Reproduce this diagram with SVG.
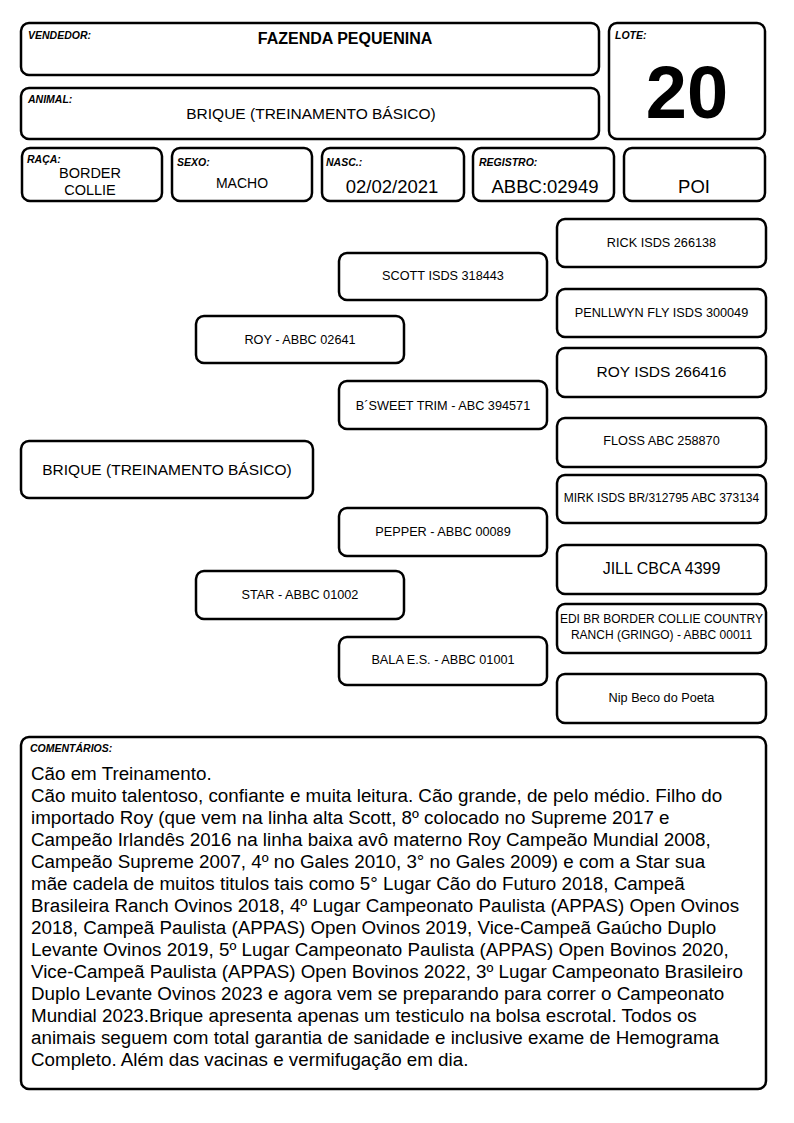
<svg xmlns="http://www.w3.org/2000/svg" width="794" height="1123" viewBox="0 0 794 1123">
<style>
.box{fill:#fff;stroke:#000;stroke-width:2.5}
text{font-family:"Liberation Sans",Arial,sans-serif;fill:#000}
.lbl{font-size:10.5px;font-weight:bold;font-style:italic}
.c{text-anchor:middle}
.p{font-size:12.7px}
.pl{font-size:15.5px}
.v{font-size:18.5px}
.cm{font-size:18.8px}
</style>
<rect width="794" height="1123" fill="#fff"/>
<g id="vendedor"><rect class="box" x="21" y="23" width="578" height="52" rx="8"/><text class="lbl" x="28" y="39">VENDEDOR:</text><text class="c" x="345" y="44" font-size="16" font-weight="bold">FAZENDA PEQUENINA</text></g>
<g id="animal"><rect class="box" x="21" y="88" width="578" height="51" rx="8"/><text class="lbl" x="28" y="103">ANIMAL:</text><text class="c" x="311" y="119" font-size="15.5">BRIQUE (TREINAMENTO BÁSICO)</text></g>
<g id="lote"><rect class="box" x="609" y="23" width="156" height="116" rx="8"/><text class="lbl" x="615" y="39">LOTE:</text><text class="c" x="687" y="118" font-size="74" font-weight="bold">20</text></g>
<g id="raca"><rect class="box" x="22" y="148" width="140" height="53" rx="8"/><text class="lbl" x="27" y="163">RAÇA:</text><text class="c" x="90" y="178" font-size="14.5">BORDER</text><text class="c" x="90" y="195" font-size="14.5">COLLIE</text></g>
<g id="sexo"><rect class="box" x="172" y="148" width="140" height="53" rx="8"/><text class="lbl" x="177" y="166">SEXO:</text><text class="c" x="242" y="188" font-size="14">MACHO</text></g>
<g id="nasc"><rect class="box" x="322" y="148" width="142" height="53" rx="8"/><text class="lbl" x="326" y="166">NASC.:</text><text class="c v" x="392" y="193">02/02/2021</text></g>
<g id="registro"><rect class="box" x="473" y="148" width="141" height="53" rx="8"/><text class="lbl" x="479" y="166">REGISTRO:</text><text class="c v" x="545" y="193">ABBC:02949</text></g>
<g id="poi"><rect class="box" x="624" y="148" width="141" height="53" rx="8"/><text class="c v" x="694" y="193">POI</text></g>

<g id="connectors"></g>

<g id="brique"><rect class="box" x="21" y="441" width="292" height="57" rx="8"/><text class="c pl" x="167" y="475">BRIQUE (TREINAMENTO BÁSICO)</text></g>
<g id="roy-abbc"><rect class="box" x="196" y="316" width="208" height="47" rx="8"/><text class="c p" x="300" y="344">ROY - ABBC 02641</text></g>
<g id="star"><rect class="box" x="196" y="571" width="208" height="48" rx="8"/><text class="c p" x="300" y="599">STAR - ABBC 01002</text></g>
<g id="scott"><rect class="box" x="339" y="253" width="208" height="47" rx="8"/><text class="c p" x="443" y="280">SCOTT ISDS 318443</text></g>
<g id="bsweet"><rect class="box" x="339" y="381" width="208" height="48" rx="8"/><text class="c p" x="443" y="410">B´SWEET TRIM - ABC 394571</text></g>
<g id="pepper"><rect class="box" x="339" y="508" width="208" height="48" rx="8"/><text class="c p" x="443" y="536">PEPPER - ABBC 00089</text></g>
<g id="bala"><rect class="box" x="339" y="637" width="208" height="48" rx="8"/><text class="c p" x="443" y="664">BALA E.S. - ABBC 01001</text></g>
<g id="rick"><rect class="box" x="557" y="219" width="209" height="48" rx="8"/><text class="c p" x="661.5" y="246.5">RICK ISDS 266138</text></g>
<g id="penllwyn"><rect class="box" x="557" y="289" width="209" height="48" rx="8"/><text class="c p" x="661.5" y="317">PENLLWYN FLY ISDS 300049</text></g>
<g id="roy-isds"><rect class="box" x="557" y="348" width="209" height="49" rx="8"/><text class="c pl" x="661.5" y="377">ROY ISDS 266416</text></g>
<g id="floss"><rect class="box" x="557" y="418" width="209" height="49" rx="8"/><text class="c p" x="661.5" y="445">FLOSS ABC 258870</text></g>
<g id="mirk"><rect class="box" x="557" y="475" width="209" height="48" rx="8"/><text class="c" x="661.5" y="502" font-size="12">MIRK ISDS BR/312795 ABC 373134</text></g>
<g id="jill"><rect class="box" x="557" y="545" width="209" height="49" rx="8"/><text class="c" x="661.5" y="574" font-size="16">JILL CBCA 4399</text></g>
<g id="edi"><rect class="box" x="557" y="604" width="209" height="49" rx="8"/><text class="c" x="661.5" y="623" font-size="12">EDI BR BORDER COLLIE COUNTRY</text><text class="c" x="661.5" y="639" font-size="12">RANCH (GRINGO) - ABBC 00011</text></g>
<g id="nip"><rect class="box" x="557" y="674" width="209" height="49" rx="8"/><text class="c p" x="661.5" y="702">Nip Beco do Poeta</text></g>

<g id="comentarios"><rect class="box" x="21" y="737" width="745" height="352" rx="8"/><text class="lbl" x="30" y="752">COMENTÁRIOS:</text>
<text class="cm" x="31" y="780">Cão em Treinamento.</text>
<text class="cm" x="31" y="802">Cão muito talentoso, confiante e muita leitura. Cão grande, de pelo médio. Filho do</text>
<text class="cm" x="31" y="824">importado Roy (que vem na linha alta Scott, 8º colocado no Supreme 2017 e</text>
<text class="cm" x="31" y="846">Campeão Irlandês 2016 na linha baixa avô materno Roy Campeão Mundial 2008,</text>
<text class="cm" x="31" y="868">Campeão Supreme 2007, 4º no Gales 2010, 3° no Gales 2009) e com a Star sua</text>
<text class="cm" x="31" y="890">mãe cadela de muitos titulos tais como 5° Lugar Cão do Futuro 2018, Campeã</text>
<text class="cm" x="31" y="912">Brasileira Ranch Ovinos 2018, 4º Lugar Campeonato Paulista (APPAS) Open Ovinos</text>
<text class="cm" x="31" y="934">2018, Campeã Paulista (APPAS) Open Ovinos 2019, Vice-Campeã Gaúcho Duplo</text>
<text class="cm" x="31" y="956">Levante Ovinos 2019, 5º Lugar Campeonato Paulista (APPAS) Open Bovinos 2020,</text>
<text class="cm" x="31" y="978">Vice-Campeã Paulista (APPAS) Open Bovinos 2022, 3º Lugar Campeonato Brasileiro</text>
<text class="cm" x="31" y="1000">Duplo Levante Ovinos 2023 e agora vem se preparando para correr o Campeonato</text>
<text class="cm" x="31" y="1022">Mundial 2023.Brique apresenta apenas um testiculo na bolsa escrotal. Todos os</text>
<text class="cm" x="31" y="1044">animais seguem com total garantia de sanidade e inclusive exame de Hemograma</text>
<text class="cm" x="31" y="1066">Completo. Além das vacinas e vermifugação em dia.</text>
</g>
</svg>
